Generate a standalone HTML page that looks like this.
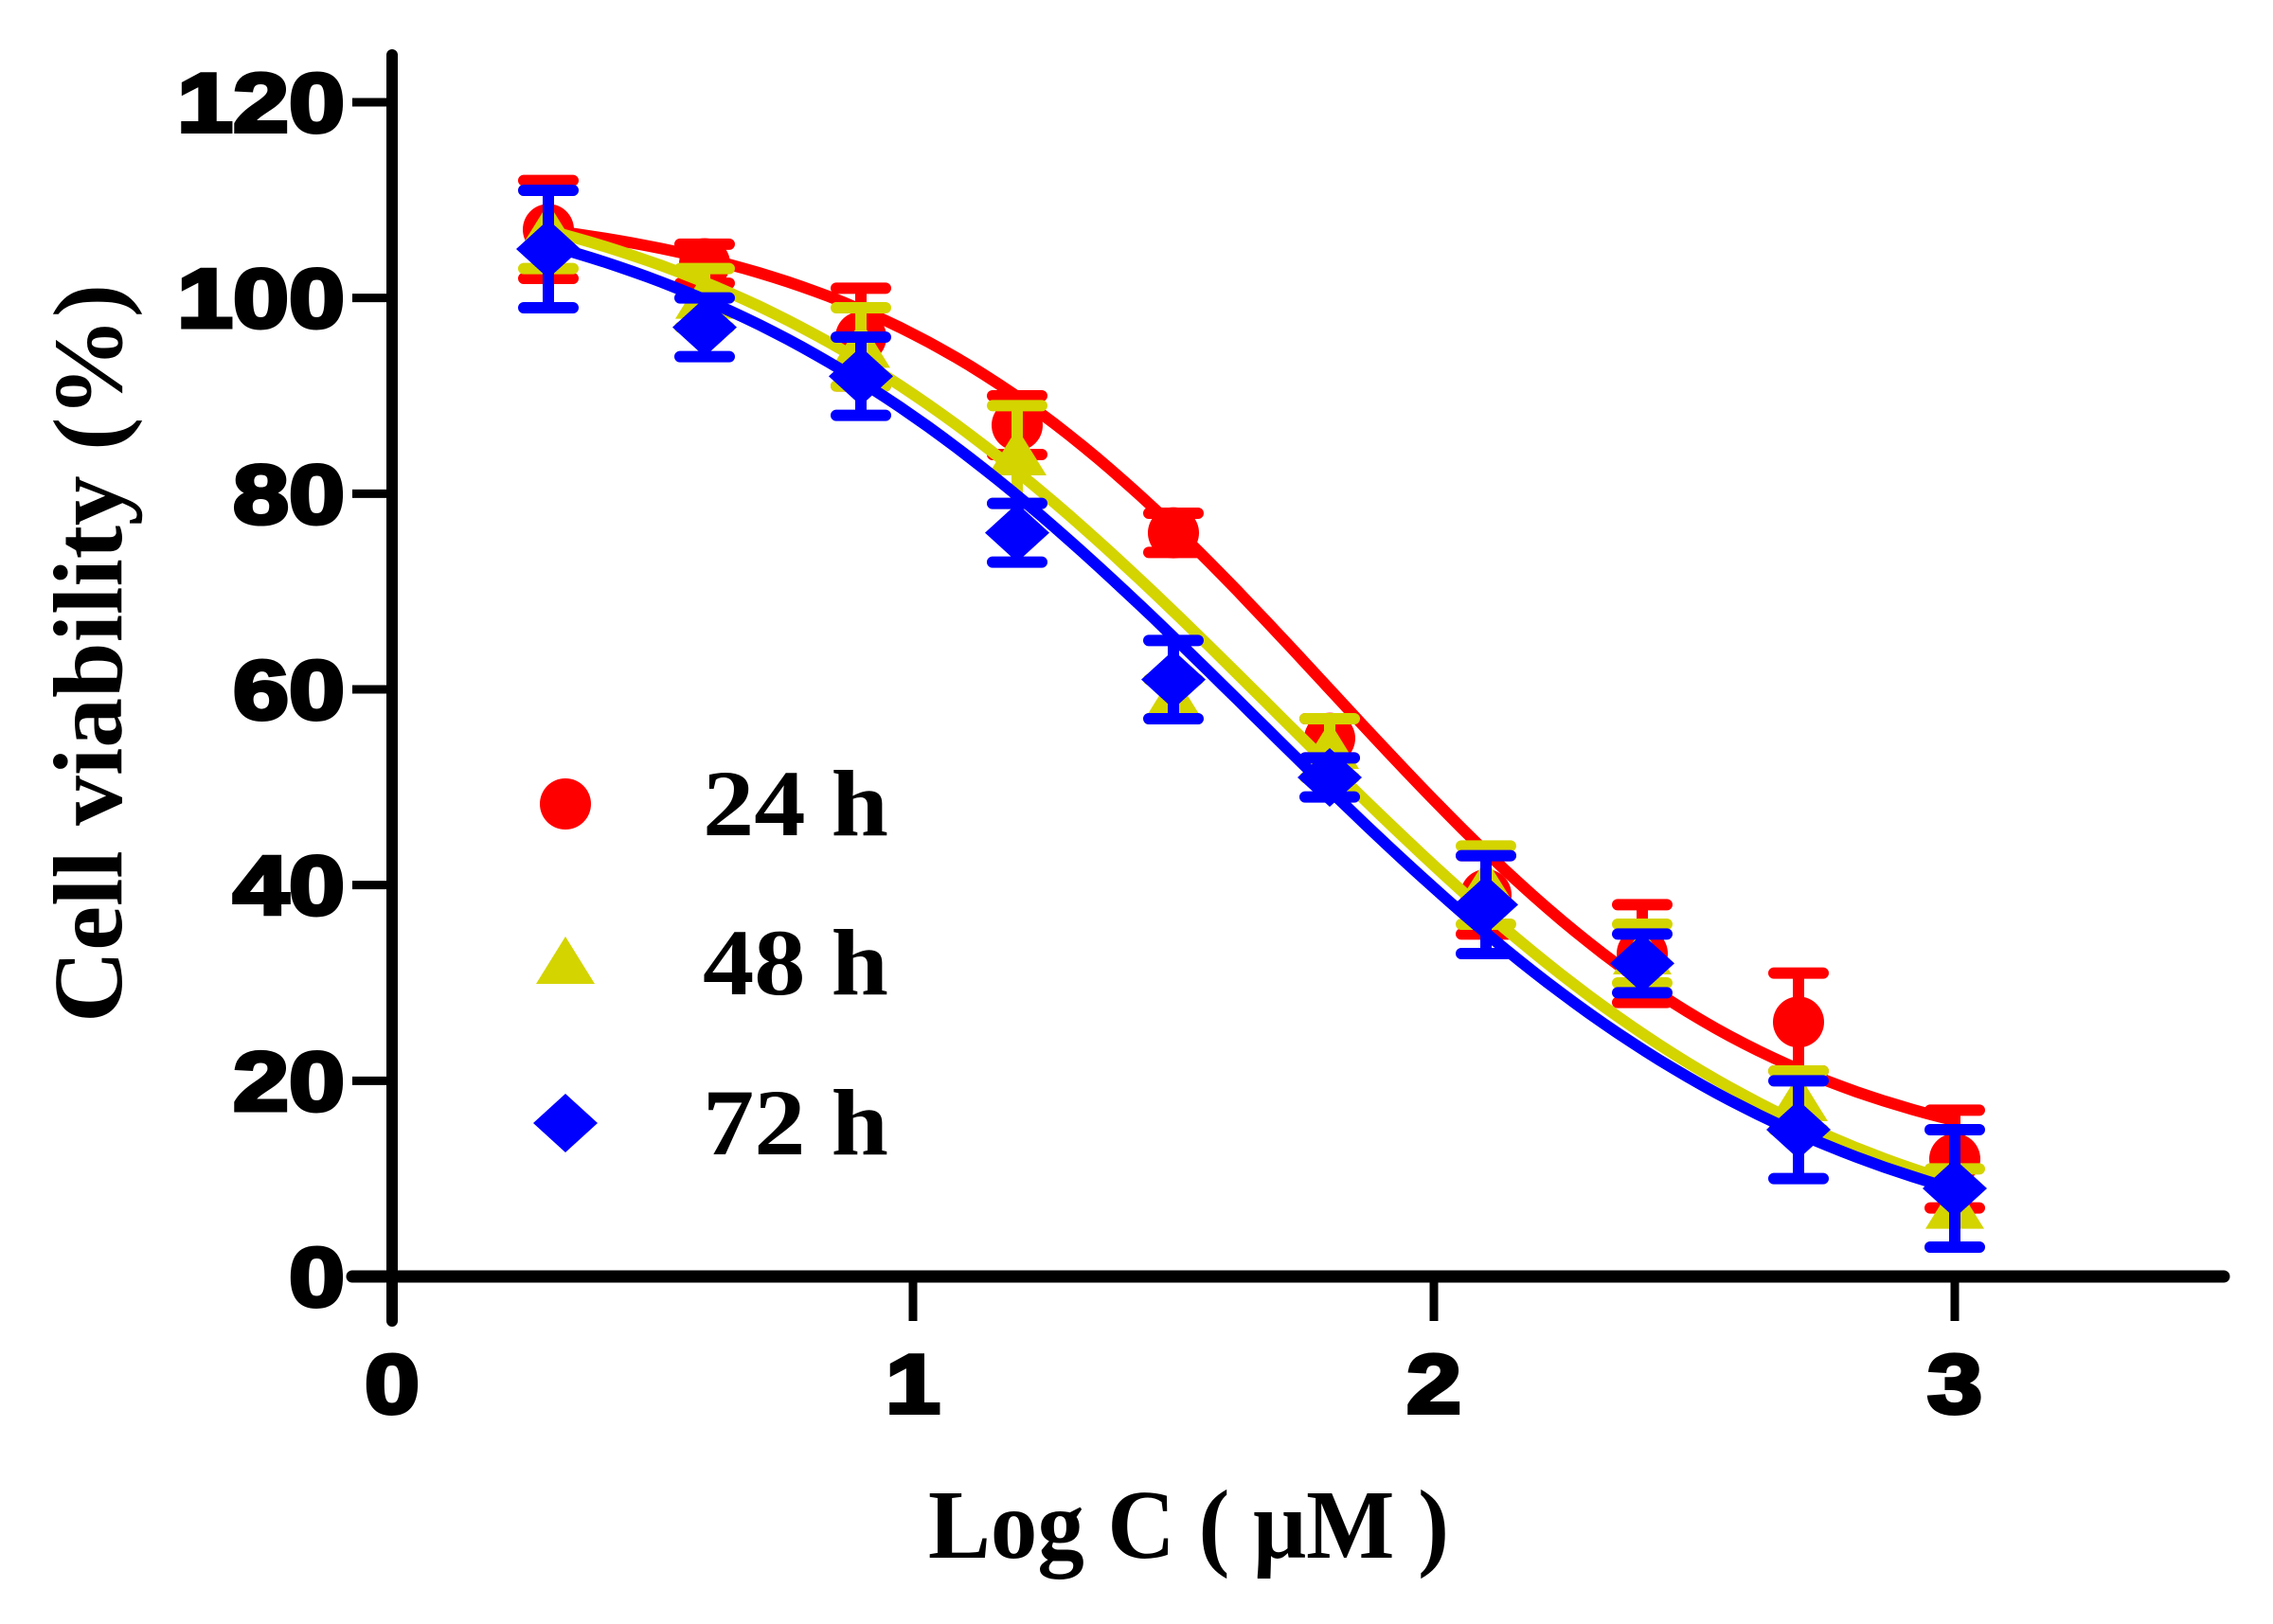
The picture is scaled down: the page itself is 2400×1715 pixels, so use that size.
<!DOCTYPE html>
<html><head><meta charset="utf-8"><style>html,body{margin:0;padding:0;background:#fff}svg{display:block}</style></head>
<body>
<svg id="chart" width="2400" height="1715" viewBox="0 0 2400 1715" xmlns="http://www.w3.org/2000/svg">
<g id="axes"></g>
<g id="series"></g>
<g id="legend"></g>
<text x="0" y="0" transform="translate(128,690) rotate(-90)" text-anchor="middle" font-family="Liberation Serif, serif" font-weight="bold" font-size="104" textLength="780" lengthAdjust="spacingAndGlyphs">Cell viability (%)</text>
<text x="1255" y="1645" text-anchor="middle" font-family="Liberation Serif, serif" font-weight="bold" font-size="104" textLength="550" lengthAdjust="spacingAndGlyphs">Log C ( μM )</text>
</svg>
<script>
const xTicks = [0, 1, 2, 3];
const yTicks = [0, 20, 40, 60, 80, 100, 120];
const logC = [0.3, 0.6, 0.9, 1.2, 1.5, 1.8, 2.1, 2.4, 2.7, 3.0];
const v24 = [107, 103.5, 96, 87, 76, 55, 39, 33, 26, 12];
const e24 = [5, 2, 5, 3, 2, 2, 4, 5, 5, 5];
const v48 = [107, 100, 95, 84, 59, 54, 40, 33, 18, 7];
const e48 = [4, 3, 4, 5, 2, 3, 4, 3, 3, 4];
const v72 = [105, 97, 92, 76, 61, 51, 38, 32, 15, 9];
const e72 = [6, 3, 4, 3, 4, 2, 5, 3, 5, 6];
const fit24 = [110, 10, 1.8, 1.0];
const fit48 = [115, 0, 1.7, 0.8];
const fit72 = [114, 0, 1.66, 0.8];
const seriesNames = ['24 h', '48 h', '72 h'];

const NS = 'http://www.w3.org/2000/svg';
const X0 = 414, XU = 550, Y0 = 1348, YU = (1348 - 108) / 120;
const sx = v => X0 + v * XU;
const sy = v => Y0 - v * YU;
function mk(parent, tag, attrs) {
  const e = document.createElementNS(NS, tag);
  for (const k in attrs) e.setAttribute(k, attrs[k]);
  parent.appendChild(e);
  return e;
}
const axes = document.getElementById('axes');
let el = mk(axes, 'line', {x1: X0, y1: 58, x2: X0, y2: 1395, stroke: '#000', 'stroke-width': 12, 'stroke-linecap': 'round'});


el = mk(axes, 'line', {x1: 372, y1: Y0, x2: 2348, y2: Y0, stroke: '#000', 'stroke-width': 13, 'stroke-linecap': 'round'});


yTicks.forEach(t => {
  const y = sy(t);
  const tk = mk(axes, 'line', {x1: 372, y1: y, x2: X0, y2: y, stroke: '#000', 'stroke-width': 9});
  
  
  const len = String(t).length * 59;
  const lb = mk(axes, 'text', {x: 364, y: y + 31, 'text-anchor': 'end', 'font-family': 'Liberation Sans, sans-serif', 'font-weight': 'bold', 'font-size': 88, stroke: '#000', 'stroke-width': 4, textLength: len, lengthAdjust: 'spacingAndGlyphs'});
  lb.textContent = t;
  
  
});
xTicks.forEach(t => {
  const x = sx(t);
  const tk = mk(axes, 'line', {x1: x, y1: Y0, x2: x, y2: 1395, stroke: '#000', 'stroke-width': 9});
  
  
  const lb = mk(axes, 'text', {x: x, y: 1492, 'text-anchor': 'middle', 'font-family': 'Liberation Sans, sans-serif', 'font-weight': 'bold', 'font-size': 88, stroke: '#000', 'stroke-width': 4, textLength: 58, lengthAdjust: 'spacingAndGlyphs'});
  lb.textContent = t;
  
  
});

const ser = document.getElementById('series');
const colors = ['#ff0000', '#d4d400', '#0000ff'];
const vals = [v24, v48, v72], errs = [e24, e48, e72], fits = [fit24, fit48, fit72];
function marker(g, type, x, y, c) {
  let m;
  if (type === 0) m = mk(g, 'circle', {cx: x, cy: y, r: 27, fill: c});
  else if (type === 1) m = mk(g, 'polygon', {points: `${x},${y-28} ${x+31},${y+22} ${x-31},${y+22}`, fill: c});
  else m = mk(g, 'polygon', {points: `${x},${y-31} ${x+34},${y} ${x},${y+31} ${x-34},${y}`, fill: c});
  return m;
}
[0, 1, 2].forEach(s => {
  const g = mk(ser, 'g', {});
  
  
  const c = colors[s];
  logC.forEach((lc, i) => {
    const x = sx(lc), yt = sy(vals[s][i] + errs[s][i]), yb = sy(vals[s][i] - errs[s][i]);
    const eb = mk(g, 'path', {d: `M${x},${yt}V${yb}M${x-26},${yt}H${x+26}M${x-26},${yb}H${x+26}`, stroke: c, 'stroke-width': 12, 'stroke-linecap': 'round', fill: 'none'});
    
    
    const m = marker(g, s, x, sy(vals[s][i]), c);
    
    
  });
  const [top, bot, c50, h] = fits[s];
  let d = '';
  for (let k = 0; k <= 100; k++) {
    const lx = logC[0] + (logC[logC.length - 1] - logC[0]) * k / 100;
    const yv = bot + (top - bot) / (1 + Math.pow(10, (lx - c50) * h));
    d += (k ? 'L' : 'M') + sx(lx).toFixed(1) + ',' + sy(yv).toFixed(1);
  }
  const cv = mk(g, 'path', {d: d, stroke: c, 'stroke-width': 12, fill: 'none', 'stroke-linecap': 'round'});
  
  
});

const leg = document.getElementById('legend');
[849, 1017, 1186].forEach((y, s) => {
  const g = mk(leg, 'g', {});
  
  
  marker(g, s, 597, y, colors[s]);
  const t = mk(g, 'text', {x: 742, y: y + 33, 'font-family': 'Liberation Serif, serif', 'font-weight': 'bold', 'font-size': 100, textLength: 196, lengthAdjust: 'spacingAndGlyphs'});
  t.textContent = seriesNames[s];
});
</script>
</body></html>
